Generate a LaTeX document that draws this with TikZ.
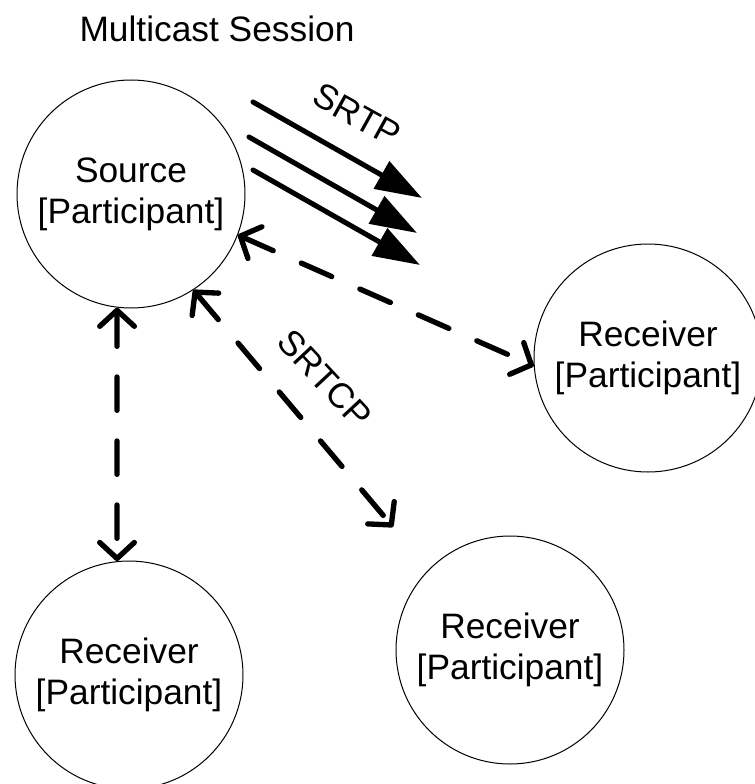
\documentclass[tikz,border=0pt]{standalone}
\usepackage{fontspec}
\setmainfont{Liberation Sans}
\usetikzlibrary{arrows.meta}
\newcommand\labelfont{\fontsize{26.5}{30.5}\selectfont}
\tikzset{barb/.tip={Straight Barb[length=12pt,width=26pt,round]}}
\begin{document}
\begin{tikzpicture}[x=0.75pt,y=-0.75pt,
  party/.style={circle, draw, line width=0.75pt, minimum size=171pt,
    inner sep=0pt, align=center, font=\labelfont},
  flow/.style={line width=3.8pt, line cap=round,
    -{Triangle[length=35pt,width=23pt]}},
  ctrl/.style={line width=4pt, line cap=round,
    dash pattern=on 25pt off 23pt, {barb}-{barb}},
  lbl/.style={font=\labelfont, inner sep=0pt}]
  \useasboundingbox (0,0) rectangle (754,784);

  % title
  \node[lbl] (title) at (217,29) {Multicast Session};

  % participants
  \node[party] (src) at (131,194) {Source\\{[Participant]}};
  \node[party] (rr)  at (648,358) {Receiver\\{[Participant]}};
  \node[party] (rb)  at (129,675) {Receiver\\{[Participant]}};
  \node[party] (rm)  at (510,650) {Receiver\\{[Participant]}};

  % SRTP data streams
  \coordinate (p1s) at (253,102); \coordinate (p1e) at (422,198);
  \coordinate (p2s) at (249,137); \coordinate (p2e) at (417,233);
  \coordinate (p3s) at (253,170); \coordinate (p3e) at (420,265);
  \draw[flow] (p1s) -- (p1e);
  \draw[flow] (p2s) -- (p2e);
  \draw[flow] (p3s) -- (p3e);
  \node[lbl, rotate=-29] (srtp) at (357,115) {SRTP};

  % SRTCP control exchanges
  \coordinate (cend) at (393,527);
  \draw[ctrl] (src.-21.7) -- (rr.184.6);
  \draw[ctrl] (src.-57.6) -- (cend);
  \draw[ctrl] (src.-97) -- (rb.96);
  \node[lbl, rotate=-47] (srtcp) at (325,379) {SRTCP};
\end{tikzpicture}
\end{document}
